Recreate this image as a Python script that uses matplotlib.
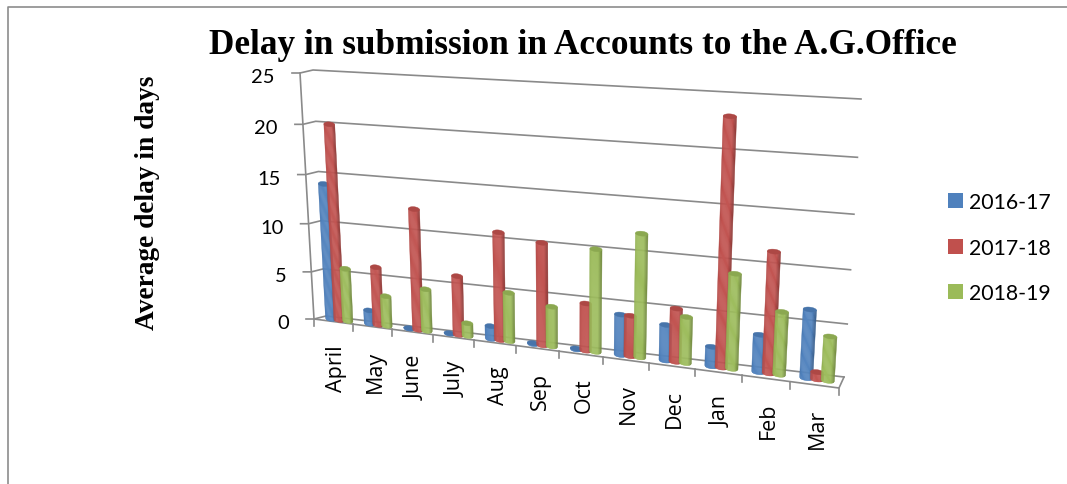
import numpy as np
import matplotlib
matplotlib.use('Agg')
import matplotlib.pyplot as plt
from matplotlib.patches import Polygon, Rectangle

months = ['April', 'May', 'June', 'July', 'Aug', 'Sep', 'Oct', 'Nov', 'Dec', 'Jan', 'Feb', 'Mar']
years = ['2016-17', '2017-18', '2018-19']
d2016 = [14, 1.4, 0.05, 0.05, 1.3, 0.1, 0.1, 4, 3.5, 1.9, 3.6, 6.5]
d2017 = [20, 6, 12.3, 6, 10.8, 10.2, 4.7, 4, 5.2, 23.3, 11.5, 0.7]
d2018 = [5.5, 3.1, 4.3, 1.3, 4.9, 4, 10.1, 12, 4.5, 9.1, 6, 4.2]
yticks = [0, 5, 10, 15, 20, 25]
colors = ['#4F81BD', '#C0504D', '#9BBB59']
GRID = '#8a8a8a'
SERIF = 'Liberation Serif'
SANS = 'Lato'

def homography(src, dst):
    rows = []
    for (x, y), (u, v) in zip(src, dst):
        rows.append([x, y, 1, 0, 0, 0, -u*x, -u*y])
        rows.append([0, 0, 0, x, y, 1, -v*x, -v*y])
    b = np.array(dst, float).ravel()
    h = np.linalg.solve(np.array(rows, float), b)
    return np.append(h, 1).reshape(3, 3)

box = [(0, 0), (12, 0), (12, 25), (0, 25)]
H_front = homography(box, [(314, 320), (839, 389), (856, 111), (300, 74)])
H_back = homography(box, [(326, 317), (844, 378), (861, 100), (313, 71)])

def apply(H, x, y):
    p = H @ np.array([x, y, 1.0])
    return p[:2] / p[2]

# x = month position, y = days, z = depth (0 front wall plane, 1 back wall)
def proj(x, y, z=0.0):
    return (1 - z) * apply(H_front, x, y) + z * apply(H_back, x, y)

def shade(c, f):
    rgb = np.array(matplotlib.colors.to_rgb(c))
    if f >= 0:
        return tuple(rgb + (1 - rgb) * f)
    return tuple(rgb * (1 + f))

def cylinder(ax, xc, value, color, zorder):
    r, zc, squash = 0.135, 0.5, 2.4
    ts = np.linspace(-1, 1, 13)
    for u0, u1 in zip(ts[:-1], ts[1:]):
        um = (u0 + u1) / 2
        f = 0.03 - 0.12 * um ** 4 if um < 0.4 else 0.03 - 0.5 * (um - 0.4)
        low0 = proj(xc + r*u0, 0, zc) + [0, squash*np.sqrt(1 - u0**2)]
        low1 = proj(xc + r*u1, 0, zc) + [0, squash*np.sqrt(1 - u1**2)]
        top1 = proj(xc + r*u1, value, zc)
        top0 = proj(xc + r*u0, value, zc)
        ax.add_patch(Polygon([low0, low1, top1, top0], closed=True, fc=shade(color, f), ec=shade(color, f),
                             lw=0.3, zorder=zorder))
    a = np.linspace(0, 2 * np.pi, 40)
    cap = [proj(xc + r*np.cos(t), value, zc) + [0, squash*np.sin(t)] for t in a]
    ax.add_patch(Polygon(cap, closed=True, fc=shade(color, -0.1), ec=shade(color, -0.1), lw=0.3, zorder=zorder + 0.5))

fig = plt.figure(figsize=(10.67, 4.85), dpi=100)
ax = fig.add_axes([0, 0, 1, 1])
ax.set_xlim(0, 1067)
ax.set_ylim(485, 0)
ax.axis('off')

# page frame
ax.plot([8, 8, 1067], [485, 8, 8], color='#8c8c8c', lw=1.2)

# walls, gridlines and axis lines
for v in yticks:
    a, b, c = proj(0, v, 0), proj(0, v, 1), proj(12, v, 1)
    ax.plot([a[0] - 8, a[0], b[0], c[0]], [a[1], a[1], b[1], c[1]], color=GRID, lw=1.2, zorder=1)
    ax.text(a[0] - 25, a[1] + 3.5, str(v), ha='right', va='center', fontsize=14.5, family=SANS, color='black')
a, b = proj(0, 0, 0), proj(0, 25, 0)
ax.plot([a[0], b[0]], [a[1], b[1]], color=GRID, lw=1.2, zorder=1)
a, b, c = proj(0, 0, 0), proj(12, 0, 0), proj(12, 0, 1)
ax.plot([a[0], b[0], c[0]], [a[1], b[1], c[1]], color=GRID, lw=1.2, zorder=1)

for i in range(13):
    p = proj(i, 0, 0)
    ax.plot([p[0], p[0]], [p[1], p[1] + 7], color=GRID, lw=1.2, zorder=1)

for i, m in enumerate(months):
    p = proj(i + 0.5, 0, 0)
    ax.text(p[0] + 3, p[1] + 23, m, rotation=90, ha='center', va='top', fontsize=15.5, family='Open Sans', color='black')

# bars
for i in range(12):
    for s, vals in enumerate([d2016, d2017, d2018]):
        cylinder(ax, i + 0.5 + (s - 1) * 0.22, vals[i], colors[s], 3 + s + i * 3)

ax.text(583, 45, 'Delay in submission in Accounts to the A.G.Office', ha='center', va='center',
        fontsize=25.35, family=SERIF, fontweight='bold', color='black')
ax.text(147, 203, 'Average delay in days', rotation=90, ha='center', va='center',
        fontsize=19.7, family=SERIF, fontweight='bold', color='black')

# legend
for y0, c, lab in zip([194, 240, 285], colors, years):
    ax.add_patch(Rectangle((948, y0), 15, 15, fc=c, ec='none'))
    ax.text(969, y0 + 9, lab, ha='left', va='center', fontsize=15.3, family=SANS, color='black')

fig.savefig('out.png', dpi=100)
